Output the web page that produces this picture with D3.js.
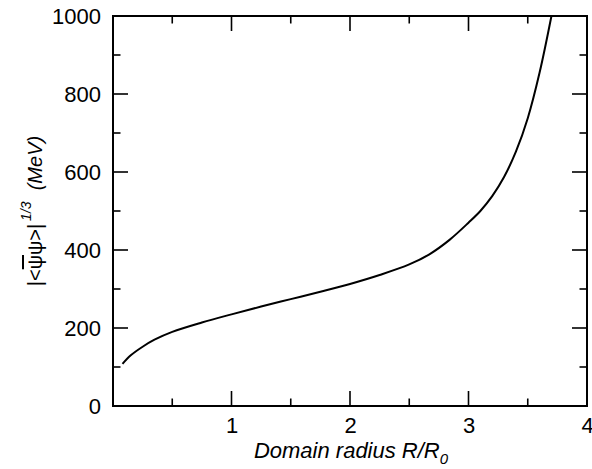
<!DOCTYPE html>
<html>
<head>
<meta charset="utf-8">
<script src="https://cdn.jsdelivr.net/npm/d3@7"></script>
<style>
  body { margin: 0; background: #fff; }
  svg text { font-family: "Liberation Sans", Arial, Helvetica, sans-serif; fill: #000; }
</style>
</head>
<body>
<svg id="chart" width="592" height="469"></svg>
<script>
// condensate vs domain radius
const radius = [0.08, 0.15, 0.25, 0.35, 0.5, 0.75, 1.0, 1.25, 1.5, 1.75, 2.0, 2.25, 2.5, 2.67, 2.84, 3.0, 3.1, 3.2, 3.3, 3.4, 3.5, 3.6, 3.7];
const condensate = [108, 130, 152, 170, 190, 214, 235, 255, 274, 293, 313, 336, 363, 389, 426, 470, 500, 538, 587, 652, 738, 855, 1000];

const xMajor = [1, 2, 3];
const xMinor = [0.5, 1.5, 2.5, 3.5];
const xLabels = [1, 2, 3, 4];
const yMajor = [200, 400, 600, 800];
const yMinor = [100, 300, 500, 700, 900];
const yLabels = [0, 200, 400, 600, 800, 1000];

const svg = d3.select("#chart");
const margin = { top: 16, right: 5, bottom: 63, left: 113 };
const width = 592, height = 469;

const x = d3.scaleLinear().domain([0, 4]).range([margin.left, width - margin.right]);
const y = d3.scaleLinear().domain([0, 1000]).range([height - margin.bottom, margin.top]);

const x0 = x(0), x1 = x(4), y0 = y(0), y1 = y(1000);
const major = 15, minor = 7.5;

// ticks on all four sides, pointing inward
const tickG = svg.append("g").attr("stroke", "#000").attr("stroke-width", 1.6);
xMajor.forEach(v => {
  tickG.append("line").attr("x1", x(v)).attr("x2", x(v)).attr("y1", y0).attr("y2", y0 - major);
  tickG.append("line").attr("x1", x(v)).attr("x2", x(v)).attr("y1", y1).attr("y2", y1 + major);
});
xMinor.forEach(v => {
  tickG.append("line").attr("x1", x(v)).attr("x2", x(v)).attr("y1", y0).attr("y2", y0 - minor);
  tickG.append("line").attr("x1", x(v)).attr("x2", x(v)).attr("y1", y1).attr("y2", y1 + minor);
});
yMajor.forEach(v => {
  tickG.append("line").attr("y1", y(v)).attr("y2", y(v)).attr("x1", x0).attr("x2", x0 + major);
  tickG.append("line").attr("y1", y(v)).attr("y2", y(v)).attr("x1", x1).attr("x2", x1 - major);
});
yMinor.forEach(v => {
  tickG.append("line").attr("y1", y(v)).attr("y2", y(v)).attr("x1", x0).attr("x2", x0 + minor);
  tickG.append("line").attr("y1", y(v)).attr("y2", y(v)).attr("x1", x1).attr("x2", x1 - minor);
});

// tick labels through d3 axes (no tick marks)
const xAxis = svg.append("g")
  .attr("transform", `translate(0,${y0})`)
  .call(d3.axisBottom(x).tickValues(xLabels).tickSize(0).tickPadding(11).tickFormat(d3.format("d")));
xAxis.select(".domain").remove();
xAxis.selectAll("text").style("font-size", "22px").style("font-family", "Liberation Sans, Arial, sans-serif");

const yAxis = svg.append("g")
  .attr("transform", `translate(${x0},0)`)
  .call(d3.axisLeft(y).tickValues(yLabels).tickSize(0).tickPadding(12).tickFormat(d3.format("d")));
yAxis.select(".domain").remove();
yAxis.selectAll("text").style("font-size", "22px").style("font-family", "Liberation Sans, Arial, sans-serif");

// the curve
const line = d3.line()
  .x((d, i) => x(radius[i]))
  .y(d => y(d))
  .curve(d3.curveCatmullRom.alpha(0.5));
svg.append("path")
  .datum(condensate)
  .attr("d", line)
  .attr("fill", "none")
  .attr("stroke", "#000")
  .attr("stroke-width", 2);

// frame
svg.append("rect")
  .attr("x", x0).attr("y", y1)
  .attr("width", x1 - x0).attr("height", y0 - y1)
  .attr("fill", "none").attr("stroke", "#000").attr("stroke-width", 2);

// x title
const xt = svg.append("text")
  .attr("x", 351).attr("y", 458)
  .attr("text-anchor", "middle")
  .style("font-size", "22px").style("font-style", "italic");
xt.append("tspan").text("Domain radius R/R");
xt.append("tspan").attr("dy", 6).style("font-size", "15px").text("0");

// y title
const yt = svg.append("text")
  .attr("transform", "translate(42,211) rotate(-90)")
  .attr("text-anchor", "middle")
  .style("font-size", "20px");
yt.append("tspan").text("|<");
yt.append("tspan").style("text-decoration", "overline").text("ψ");
yt.append("tspan").text("ψ>|");
yt.append("tspan").attr("dx", 3).attr("dy", -11).style("font-size", "14px").style("font-style", "italic").text("1/3");
yt.append("tspan").attr("dy", 11).style("font-style", "italic").text("\u00a0 (MeV)");
</script>
</body>
</html>
